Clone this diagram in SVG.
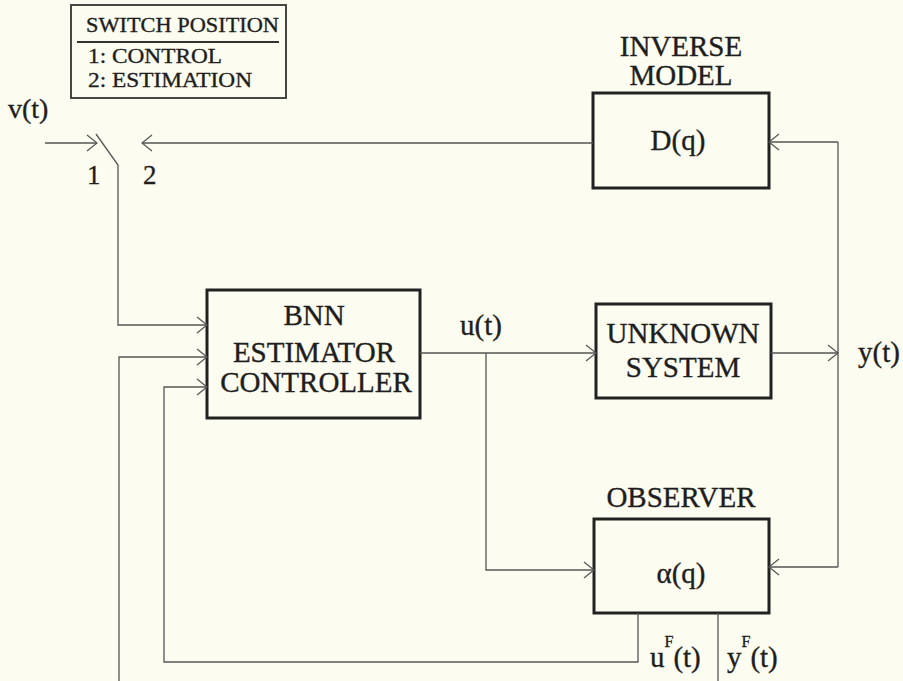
<svg xmlns="http://www.w3.org/2000/svg" width="903" height="681" viewBox="0 0 903 681" font-family="'Liberation Serif', 'Times New Roman', Times, serif">
<defs>
<style>
.bg{fill:#fcfcf0}
.box{fill:none;stroke:#222;stroke-width:3}
.leg{fill:none;stroke:#333;stroke-width:1.8}
.wire{fill:none;stroke:#555;stroke-width:1.3}
text{fill:#1e1e1e;stroke:#1e1e1e;stroke-width:0.35}
</style>
<marker id="ar" viewBox="-11 -9 12 18" markerWidth="12" markerHeight="18" refX="0" refY="0" orient="auto" markerUnits="userSpaceOnUse">
<path d="M-10,-8 L0,0 L-10,8" fill="none" stroke="#555" stroke-width="1.2"/>
</marker>
</defs>
<rect class="bg" x="0" y="0" width="903" height="681"/>

<g id="legend" font-size="21">
<rect class="leg" x="71" y="5" width="215" height="93"/>
<line class="leg" x1="77" y1="42" x2="279" y2="42"/>
<text x="86" y="32" textLength="193" lengthAdjust="spacingAndGlyphs">SWITCH POSITION</text>
<text x="88" y="63" textLength="134" lengthAdjust="spacingAndGlyphs">1: CONTROL</text>
<text x="88" y="87" textLength="164" lengthAdjust="spacingAndGlyphs">2: ESTIMATION</text>
</g>

<g id="switch" font-size="28">
<text x="8" y="118">v(t)</text>
<text x="87" y="184" font-size="27">1</text>
<text x="143" y="184" font-size="27">2</text>
</g>

<g id="inverse-model" font-size="29">
<rect class="box" x="593" y="93" width="176" height="95"/>
<text x="681" y="56" text-anchor="middle">INVERSE</text>
<text x="681" y="85" text-anchor="middle">MODEL</text>
<text x="678" y="150" text-anchor="middle">D(q)</text>
</g>

<g id="bnn" font-size="29">
<rect class="box" x="207" y="290" width="213" height="128"/>
<text x="314" y="325" text-anchor="middle">BNN</text>
<text x="314" y="362" text-anchor="middle">ESTIMATOR</text>
<text x="316" y="392" text-anchor="middle">CONTROLLER</text>
</g>

<g id="unknown-system" font-size="29">
<rect class="box" x="596" y="304" width="175" height="94"/>
<text x="683" y="343" text-anchor="middle">UNKNOWN</text>
<text x="683" y="377" text-anchor="middle">SYSTEM</text>
</g>

<g id="observer" font-size="29">
<rect class="box" x="594" y="519" width="175" height="94"/>
<text x="681" y="507" text-anchor="middle">OBSERVER</text>
<text x="681" y="583" text-anchor="middle">α(q)</text>
</g>

<g id="connectors">
<line class="wire" x1="45" y1="143" x2="97" y2="143" marker-end="url(#ar)"/>
<polyline class="wire" points="96,134 118,165 118,325 207,325" marker-end="url(#ar)"/>
<line class="wire" x1="593" y1="143" x2="142" y2="143" marker-end="url(#ar)"/>
<polyline class="wire" points="119,681 119,357 207,357" marker-end="url(#ar)"/>
<polyline class="wire" points="638,613 638,662 164,662 164,387 207,387" marker-end="url(#ar)"/>
<line class="wire" x1="420" y1="353" x2="596" y2="353" marker-end="url(#ar)"/>
<polyline class="wire" points="486,353 486,570 594,570" marker-end="url(#ar)"/>
<line class="wire" x1="771" y1="353" x2="838" y2="353" marker-end="url(#ar)"/>
<line class="wire" x1="838" y1="142" x2="838" y2="567"/>
<line class="wire" x1="838" y1="142" x2="769" y2="142" marker-end="url(#ar)"/>
<line class="wire" x1="838" y1="567" x2="769" y2="567" marker-end="url(#ar)"/>
<line class="wire" x1="718" y1="613" x2="718" y2="681"/>
</g>

<g id="labels" font-size="29">
<text x="460" y="335">u(t)</text>
<text x="858" y="362">y(t)</text>
<text x="650" y="667">u<tspan font-size="16" dy="-20">F</tspan><tspan dy="20">(t)</tspan></text>
<text x="727" y="667">y<tspan font-size="16" dy="-20">F</tspan><tspan dy="20">(t)</tspan></text>
</g>
</svg>
